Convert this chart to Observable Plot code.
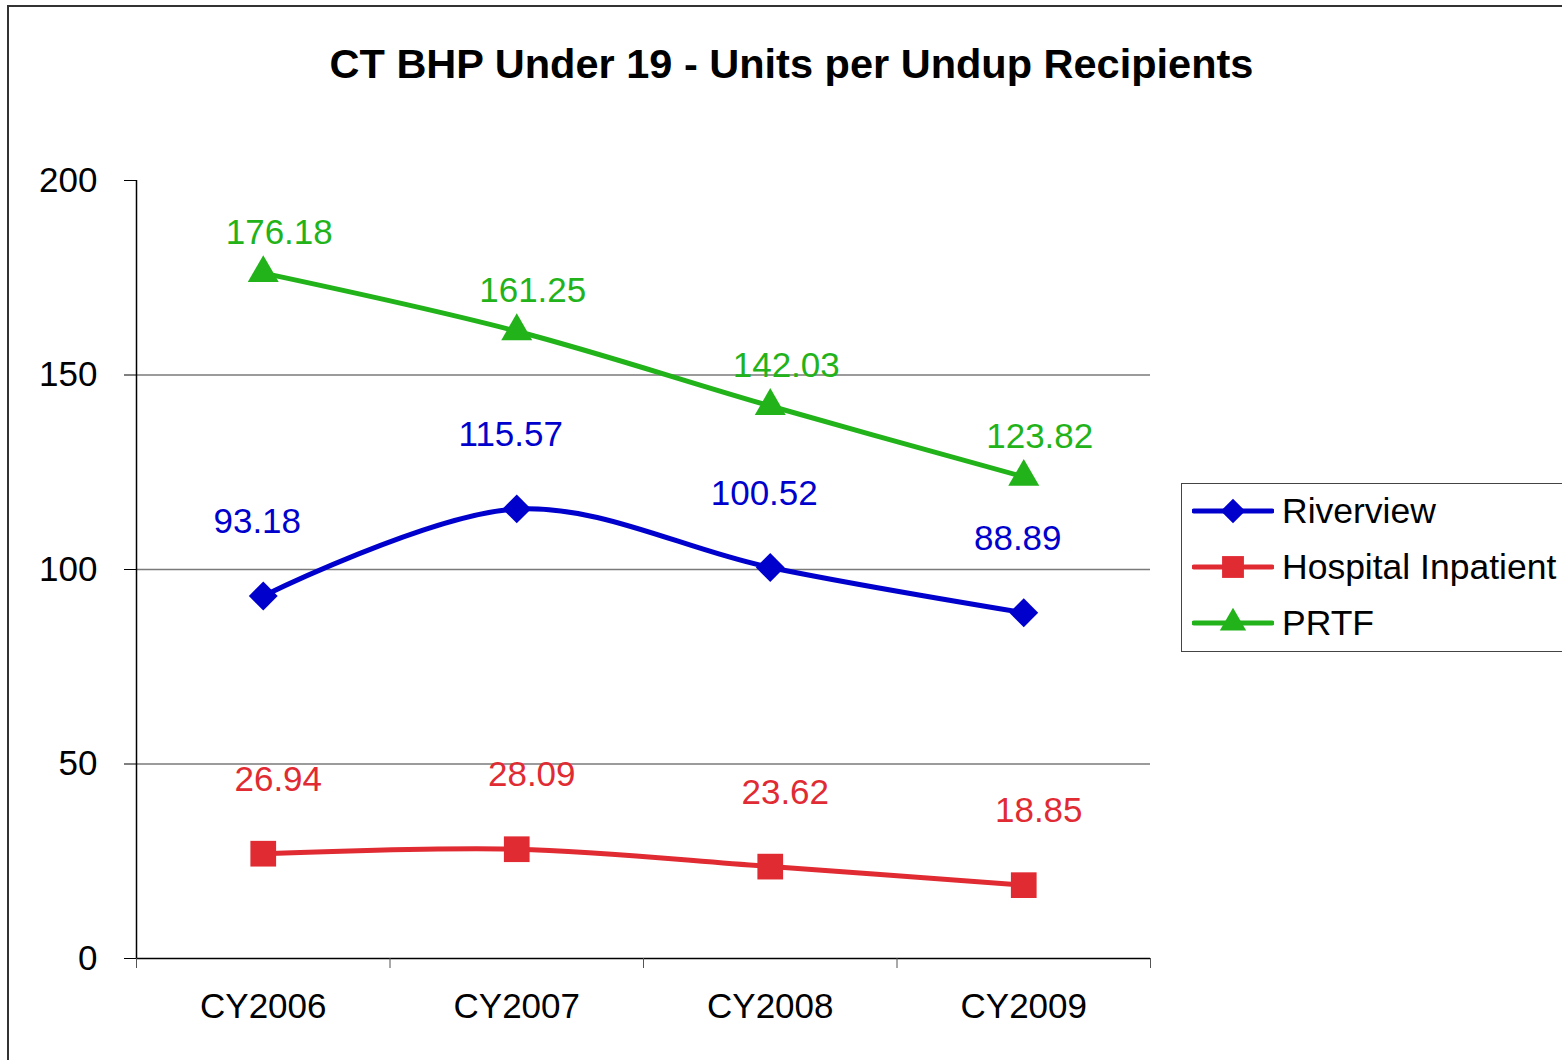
<!DOCTYPE html>
<html>
<head>
<meta charset="utf-8">
<script src="https://cdn.jsdelivr.net/npm/d3@7"></script>
<script src="https://cdn.jsdelivr.net/npm/@observablehq/plot@0.6"></script>
<style>
  html, body { margin: 0; padding: 0; background: #fff; }
  #wrap { position: relative; width: 1562px; height: 1060px; overflow: hidden; font-family: "Liberation Sans", Arial, sans-serif; background:#fff; }
  #frame { position: absolute; left: 7px; top: 5px; width: 1700px; height: 1200px; border: 2px solid #333; box-sizing: border-box; }
  #title { position: absolute; left: 21px; top: 0; width: 1541px; height: 120px; line-height: 128px; text-align: center; font-size: 41.5px; font-weight: bold; color: #000; }
  #chart { position: absolute; left: 0; top: 0; }
  #legend { position: absolute; left: 1181px; top: 483px; width: 420px; height: 169px; border: 1.5px solid #444; box-sizing: border-box; background: #fff; }
  .item { position: absolute; left: 10px; height: 40px; display: flex; align-items: center; font-size: 35.5px; color: #000; white-space: nowrap; }
  .item svg { margin-right: 8px; }
</style>
</head>
<body>
<div id="wrap">
  <div id="frame"></div>
  <div id="chart"></div>
  <div id="title">CT BHP Under 19 - Units per Undup Recipients</div>
  <div id="legend"></div>
</div>
<script>
const categories = ["CY2006", "CY2007", "CY2008", "CY2009"];
const seriesNames = ["Riverview", "Hospital Inpatient", "PRTF"];
const riverview = [93.18, 115.57, 100.52, 88.89];
const hospitalInpatient = [26.94, 28.09, 23.62, 18.85];
const prtf = [176.18, 161.25, 142.03, 123.82];
const yTicks = [0, 50, 100, 150, 200];
const gridValues = [50, 100, 150];

const seriesValues = [riverview, hospitalInpatient, prtf];
const colors = ["#0000CC", "#E02B33", "#22B31A"];
const symbols = ["diamond2", "square", "triangle"];
const radii = [13, 14.5, 11.5];
const labelDx = [-6, 15, 16];
const labelDy = [-74, -74, -40];

const rows = [];
seriesNames.forEach((s, si) => {
  seriesValues[si].forEach((v, i) => rows.push({series: s, si, cat: categories[i], xi: i + 0.5, value: v}));
});

const FONT = '"Liberation Sans", Arial, sans-serif';
const marks = [
  Plot.gridY(gridValues, {stroke: "#7a7a7a", strokeOpacity: 1, strokeWidth: 1.5}),
  Plot.axisY(yTicks, {tickSize: 12, tickPadding: 27, fontSize: 35, stroke: "#000", tickFormat: d => String(d), label: null}),
  Plot.ruleX([0], {stroke: "#000", strokeWidth: 1.5}),
  Plot.ruleY([0], {stroke: "#000", strokeWidth: 1.5}),
  Plot.axisX(d3.range(categories.length + 1), {tickSize: 10, stroke: "#555", tickFormat: () => "", label: null}),
  Plot.axisX(categories.map((c, i) => i + 0.5), {tickSize: 0, tickPadding: 35, fontSize: 35, fill: "#000", tickFormat: d => categories[Math.floor(d)], label: null})
];
seriesNames.forEach((s, si) => {
  const data = rows.filter(r => r.si === si);
  marks.push(Plot.line(data, {x: "xi", y: "value", stroke: colors[si], strokeWidth: 5, curve: "catmull-rom"}));
});
seriesNames.forEach((s, si) => {
  const data = rows.filter(r => r.si === si);
  marks.push(Plot.dot(data, {x: "xi", y: "value", symbol: () => symbols[si], fill: colors[si], stroke: "none", r: radii[si]}));
  marks.push(Plot.text(data, {x: "xi", y: "value", text: d => d.value.toFixed(2), fill: colors[si], fontSize: 35, dx: labelDx[si], dy: labelDy[si]}));
});

const chart = Plot.plot({
  width: 1562,
  height: 1060,
  marginLeft: 136,
  marginRight: 412,
  marginTop: 180,
  marginBottom: 102,
  style: {fontFamily: FONT, background: "transparent", overflow: "visible"},
  x: {type: "linear", domain: [0, categories.length], axis: null},
  y: {domain: [0, 200], axis: null},
  symbol: {type: "identity"},
  marks
});
document.getElementById("chart").appendChild(chart);

// Legend
const legend = document.getElementById("legend");
seriesNames.forEach((s, si) => {
  const item = document.createElement("div");
  item.className = "item";
  item.style.top = (7 + si * 56) + "px";
  const svg = d3.create("svg").attr("width", 82).attr("height", 40);
  svg.append("line").attr("x1", 2).attr("x2", 80).attr("y1", 20).attr("y2", 20)
    .attr("stroke", colors[si]).attr("stroke-width", 5).attr("stroke-linecap", "round");
  const symMap = {diamond2: d3.symbolDiamond2, square: d3.symbolSquare, triangle: d3.symbolTriangle};
  const lr = radii[si] * 0.85;
  svg.append("path").attr("transform", "translate(41,20)")
    .attr("d", d3.symbol(symMap[symbols[si]], Math.PI * lr * lr)())
    .attr("fill", colors[si]);
  item.appendChild(svg.node());
  const span = document.createElement("span");
  span.textContent = s;
  item.appendChild(span);
  legend.appendChild(item);
});
</script>
</body>
</html>
